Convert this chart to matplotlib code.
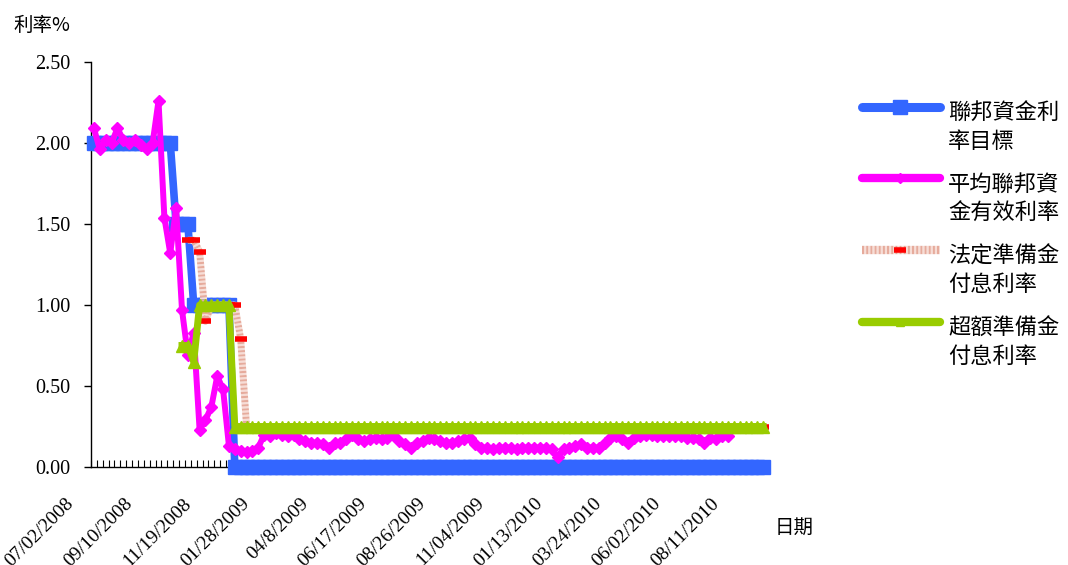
import numpy as np
import matplotlib
matplotlib.use("Agg")
import matplotlib.pyplot as plt
from matplotlib.lines import Line2D
from matplotlib.transforms import ScaledTranslation

# weekly observations, one per Wednesday starting 07/02/2008
tick_labels = ["07/02/2008", "09/10/2008", "11/19/2008", "01/28/2009", "04/8/2009",
               "06/17/2009", "08/26/2009", "11/04/2009", "01/13/2010", "03/24/2010",
               "06/02/2010", "08/11/2010"]

fed_target = [2.00] * 14 + [1.50] * 3 + [1.00] * 7 + [0.00] * 91

effective = [
    2.09, 1.96, 2.02, 2.00, 2.09, 2.02, 2.00, 2.02, 1.99, 1.96, 2.00, 2.26,
    1.54, 1.32, 1.60, 0.97, 0.69, 0.83, 0.23, 0.29, 0.37, 0.56, 0.48, 0.13,
    0.11, 0.10, 0.09, 0.10, 0.12, 0.20, 0.19, 0.21, 0.20, 0.19, 0.20, 0.17,
    0.16, 0.15, 0.15, 0.14, 0.12, 0.15, 0.15, 0.17, 0.20, 0.17, 0.16, 0.17,
    0.18, 0.17, 0.18, 0.20, 0.16, 0.14, 0.12, 0.15, 0.16, 0.18, 0.17, 0.16,
    0.15, 0.15, 0.16, 0.17, 0.18, 0.14, 0.12, 0.12, 0.11, 0.12, 0.12, 0.12,
    0.11, 0.12, 0.12, 0.12, 0.12, 0.12, 0.11, 0.06, 0.11, 0.12, 0.13, 0.14,
    0.12, 0.12, 0.12, 0.15, 0.18, 0.19, 0.17, 0.15, 0.18, 0.19, 0.20, 0.20,
    0.19, 0.19, 0.19, 0.19, 0.19, 0.18, 0.18, 0.17, 0.15, 0.18, 0.17, 0.19, 0.19,
]

required_ior = [np.nan] * 16 + [1.40, 1.40, 1.33, 0.90] + [1.00] * 5 + [0.79] + [0.25] * 89

excess_ior = [np.nan] * 15 + [0.75, 0.75, 0.65] + [1.00] * 6 + [0.25] * 91

series_names = ["聯邦資金利\n率目標", "平均聯邦資\n金有效利率", "法定準備金\n付息利率", "超額準備金\n付息利率"]

W, H = 1068, 565
CJK = ["Noto Sans CJK TC", "DejaVu Sans"]
SERIF = "Liberation Serif"

BLUE = "#3366ff"
PINK = "#ff00ff"
PALE = "#e6ab9c"
PALE_GAP = "#f7ddd6"
RED = "#ff0000"
GREEN = "#99cc00"

n = len(fed_target)
cat_w = 5.87  # pixels per week

fig = plt.figure(figsize=(W / 100, H / 100), dpi=100)
ax = fig.add_axes([91 / W, (H - 467) / H, n * cat_w / W, 405 / H])

x = np.arange(n)
ax.plot(x, fed_target, color=BLUE, lw=5.5, marker="s", ms=10,
        clip_on=False, zorder=3)
ax.plot(x[:len(effective)], effective, color=PINK, lw=4.3, marker="D", ms=6.5,
        clip_on=False, zorder=4)
ax.plot(x, required_ior, color=PALE, gapcolor=PALE_GAP, lw=5, dashes=(0.3, 0.3),
        marker="_", ms=8, mew=4, mec=RED, clip_on=False, zorder=5)
ax.plot(x, excess_ior, color=GREEN, lw=5, marker="^", ms=8,
        clip_on=False, zorder=6)

ax.set_xlim(-0.5, n - 0.5)
ax.set_ylim(0, 2.5)

for side in ("top", "right"):
    ax.spines[side].set_visible(False)
for side in ("left", "bottom"):
    ax.spines[side].set_color("black")
    ax.spines[side].set_linewidth(1)

ax.set_yticks(np.arange(0, 2.51, 0.5))
ax.set_yticklabels([f"{v:.2f}" for v in np.arange(0, 2.51, 0.5)],
                   fontfamily=SERIF, fontsize=14.5)
ax.tick_params(axis="y", direction="out", length=5, width=1, pad=10)

ax.set_xticks(np.arange(0, n, 10)[:len(tick_labels)])
ax.set_xticklabels(tick_labels, rotation=45, ha="right",
                   fontfamily=SERIF, fontsize=14)
ax.set_xticks(np.arange(n + 1) - 0.5, minor=True)
ax.tick_params(axis="x", which="major", length=0, pad=20)
ax.tick_params(axis="x", which="minor", direction="in", length=5, width=0.8)
shift = ScaledTranslation(-17 / 100, 0, fig.dpi_scale_trans)
for lab in ax.get_xticklabels():
    lab.set_transform(lab.get_transform() + shift)

fig.text(13 / W, 1 - 25 / H, "利率%", fontsize=14, family=CJK, va="center")
fig.text(775 / W, 1 - 527 / H, "日期", fontsize=14, family=CJK, va="center")

# legend drawn by hand so the sample line sits on the first text row
def fx(px):
    return px / W

def fy(py):
    return 1 - py / H

styles = [
    dict(color=BLUE, lw=6.5, marker="s", ms=10),
    dict(color=PINK, lw=6, marker="D", ms=5),
    dict(color=PALE, gapcolor=PALE_GAP, lw=6, dashes=(0.25, 0.25),
         marker="_", ms=8, mew=4, mec=RED),
    dict(color=GREEN, lw=6, marker="^", ms=6),
]
rows = [107, 178, 250, 322]
for name, style, row in zip(series_names, styles, rows):
    line = Line2D([fx(862), fx(900), fx(940)], [fy(row)] * 3, markevery=[1],
                  transform=fig.transFigure, solid_capstyle="round", **style)
    fig.add_artist(line)
    fig.text(fx(948), fy(row - 5), name, fontsize=16, family=CJK,
             va="top", linespacing=1.3)

fig.savefig("out.png", dpi=100)
